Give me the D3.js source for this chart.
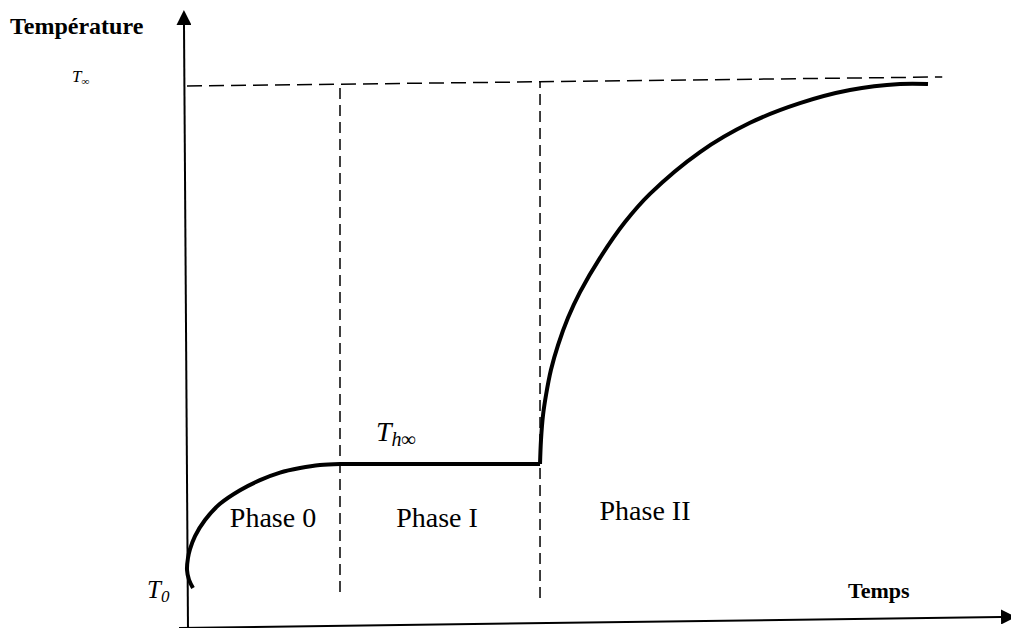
<!DOCTYPE html>
<html>
<head>
<meta charset="utf-8">
<script src="https://cdn.jsdelivr.net/npm/d3@7"></script>
<style>
  body { margin: 0; background: #fff; }
  text { font-family: "Liberation Serif", "Times New Roman", serif; fill: #000; }
</style>
</head>
<body>
<div id="chart"></div>
<script>
// Time in arbitrary units, temperature as % of the rise from T0 to T∞
const phase0Time = [0.8, 0.27, 0, 0.13, 0.4, 1.07, 2.4, 4.4, 7.07, 9.73, 12.4, 15.07, 17.73, 20.4];
const phase0Temp = [0, 1.6, 3.6, 5.95, 7.7, 10.3, 13.5, 16.7, 19.4, 21.4, 22.9, 23.8, 24.4, 24.6];
const plateauTime = [20.4, 47.07];
const plateauTemp = [24.6, 24.6];
const phase2Time = [47.07, 47.2, 47.47, 47.87, 48.53, 49.47, 50.8, 52.4, 55.07, 58.4, 61.73, 68.4, 75.07, 81.73, 88.4, 95.07, 98.8];
const phase2Temp = [24.6, 29.4, 34.3, 38.3, 43.3, 48.2, 53.6, 58.7, 65.5, 72.6, 78.2, 86.5, 92.3, 96.2, 98.8, 100, 100];
const asymptoteTime = [0, 100.7];
const asymptoteTemp = [99.6, 101.4];
const phaseBounds = [20.4, 47.07];
const boundBottoms = [-0.8, -2];
const phaseLabels = ["Phase 0", "Phase I", "Phase II"];

const width = 1011, height = 628;

const svg = d3.select("#chart").append("svg")
    .attr("width", width)
    .attr("height", height);

// scales
const x = d3.scaleLinear().domain([0, 100]).range([187, 937]);
const y = d3.scaleLinear().domain([0, 100]).range([588, 84]);

// arrow head
const defs = svg.append("defs");
defs.append("marker")
    .attr("id", "arrow")
    .attr("viewBox", "0 0 10 10")
    .attr("refX", 0).attr("refY", 5)
    .attr("markerUnits", "userSpaceOnUse")
    .attr("markerWidth", 15).attr("markerHeight", 15)
    .attr("orient", "auto")
    .append("path")
    .attr("d", "M0,0 L10,5 L0,10 Z")
    .attr("fill", "#000");

// axes, slightly tilted like the hand drawn original
svg.append("line")
    .attr("x1", x(0) + 1).attr("y1", height)
    .attr("x2", x(0) - 3).attr("y2", 25)
    .attr("stroke", "#000").attr("stroke-width", 2)
    .attr("marker-end", "url(#arrow)");

svg.append("line")
    .attr("x1", x(0) - 8).attr("y1", height)
    .attr("x2", 1001).attr("y2", 617)
    .attr("stroke", "#000").attr("stroke-width", 2)
    .attr("marker-end", "url(#arrow)");

// T∞ asymptote
const line = d3.line().x(d => x(d[0])).y(d => y(d[1]));
svg.append("path")
    .attr("d", line(d3.zip(asymptoteTime, asymptoteTemp)))
    .attr("fill", "none")
    .attr("stroke", "#000").attr("stroke-width", 1.5)
    .attr("stroke-dasharray", "15,7");

// phase boundaries, dashed, up to the asymptote
const slope = (asymptoteTemp[1] - asymptoteTemp[0]) / (asymptoteTime[1] - asymptoteTime[0]);
phaseBounds.forEach((t, i) => {
    svg.append("line")
        .attr("x1", x(t)).attr("x2", x(t))
        .attr("y1", y(boundBottoms[i]))
        .attr("y2", y(asymptoteTemp[0] + slope * t))
        .attr("stroke", "#000").attr("stroke-width", 1.5)
        .attr("stroke-dasharray", "11,6");
});

// temperature curve
const curve = d3.line()
    .x(d => x(d[0])).y(d => y(d[1]))
    .curve(d3.curveCatmullRom.alpha(0.5));

[[phase0Time, phase0Temp], [plateauTime, plateauTemp], [phase2Time, phase2Temp]].forEach(([t, v]) => {
    svg.append("path")
        .attr("d", curve(d3.zip(t, v)))
        .attr("fill", "none")
        .attr("stroke", "#000")
        .attr("stroke-width", 4);
});

// labels
svg.append("text")
    .attr("x", 10).attr("y", 34)
    .attr("font-size", 24).attr("font-weight", "bold")
    .text("Température");

svg.append("text")
    .attr("x", 848).attr("y", 598)
    .attr("font-size", 22).attr("font-weight", "bold")
    .text("Temps");

const tInf = svg.append("text")
    .attr("x", 72).attr("y", 82)
    .attr("font-size", 17).attr("font-style", "italic");
tInf.append("tspan").text("T");
tInf.append("tspan").attr("font-size", 11).attr("dy", 3).text("∞");

const t0 = svg.append("text")
    .attr("x", 147).attr("y", 598)
    .attr("font-size", 25).attr("font-style", "italic");
t0.append("tspan").text("T");
t0.append("tspan").attr("font-size", 17).attr("dy", 4).text("0");

const th = svg.append("text")
    .attr("x", 376).attr("y", 441)
    .attr("font-size", 28).attr("font-style", "italic");
th.append("tspan").text("T");
th.append("tspan").attr("font-size", 20).attr("dy", 5).text("h∞");

const labelPos = [[273, 527], [437, 527], [645, 520]];
phaseLabels.forEach((s, i) => {
    svg.append("text")
        .attr("x", labelPos[i][0]).attr("y", labelPos[i][1])
        .attr("text-anchor", "middle")
        .attr("font-size", 28)
        .text(s);
});
</script>
</body>
</html>
